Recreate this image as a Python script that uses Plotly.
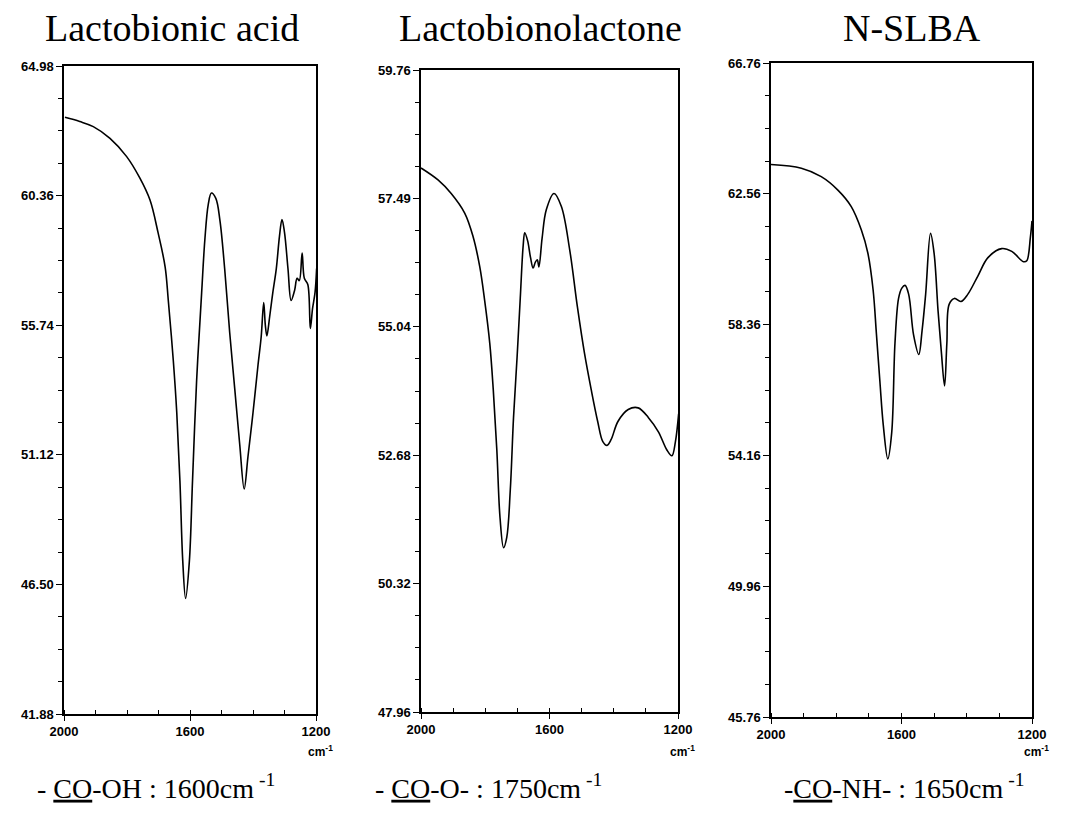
import plotly.graph_objects as go

# Lactobionic acid
lba_wn = [1997, 1950, 1907, 1854, 1801, 1759, 1727, 1701, 1679, 1669, 1653, 1642, 1632, 1623, 1614,
          1602, 1592, 1579, 1563, 1553, 1542, 1532, 1518, 1505, 1490, 1474, 1458, 1442, 1428, 1416,
          1400, 1384, 1374, 1366, 1361, 1356, 1347, 1337, 1326, 1316, 1308, 1300, 1289, 1279, 1268,
          1260, 1253, 1244, 1237, 1226, 1218, 1211, 1203, 1198]
lba_t = [63.15, 63.00, 62.82, 62.40, 61.75, 60.98, 60.20, 59.02, 57.82, 56.64, 54.48, 52.62, 50.19, 47.33, 46.00,
         47.33, 50.19, 53.76, 56.90, 58.76, 60.05, 60.45, 60.26, 59.48, 57.76, 55.48, 53.48, 51.47, 49.90, 51.05,
         52.62, 54.33, 55.33, 56.55, 55.76, 55.36, 56.05, 56.91, 57.76, 58.91, 59.51, 59.05, 57.76, 56.62, 56.98,
         57.41, 57.33, 58.31, 57.41, 57.19, 55.62, 56.33, 56.91, 57.76]

# Lactobionolactone
lac_wn = [2000, 1947, 1906, 1864, 1838, 1817, 1802, 1786, 1775, 1764, 1754, 1743, 1733, 1722, 1712, 1701,
          1691, 1682, 1677, 1668, 1659, 1651, 1644, 1638, 1633, 1623, 1610, 1586, 1563, 1537,
          1513, 1491, 1470, 1450, 1434, 1421, 1408, 1387, 1355, 1324, 1292, 1261, 1235, 1219, 1208, 1198]
lac_t = [57.96, 57.74, 57.49, 57.13, 56.70, 56.14, 55.53, 54.74, 53.88, 52.78, 51.53, 50.98, 51.17, 52.05, 53.37, 54.47,
         55.57, 56.53, 56.77, 56.62, 56.31, 56.12, 56.23, 56.27, 56.14, 56.67, 57.19, 57.49, 57.25, 56.45,
         55.40, 54.55, 53.88, 53.30, 52.93, 52.86, 52.97, 53.30, 53.52, 53.55, 53.37, 53.11, 52.78, 52.67, 52.93, 53.44]

# N-SLBA
slba_wn = [2000, 1907, 1846, 1795, 1754, 1723, 1703, 1687, 1677, 1666, 1656, 1642, 1630, 1620, 1609, 1599,
           1589, 1578, 1563, 1547, 1537, 1526, 1511, 1500, 1488, 1478, 1468, 1461, 1454, 1438, 1418,
           1397, 1366, 1335, 1293, 1262, 1226, 1216, 1205, 1200]
slba_t = [63.50, 63.38, 63.11, 62.68, 62.15, 61.40, 60.65, 59.47, 58.08, 56.50, 55.15, 54.05, 54.89, 57.77, 59.20, 59.53,
          59.62, 59.33, 58.03, 57.40, 58.16, 59.33, 61.29, 60.64, 58.81, 57.50, 56.39, 57.76, 59.01, 59.20, 59.10,
          59.33, 59.92, 60.51, 60.80, 60.71, 60.38, 60.41, 61.16, 61.69]

titles = ["Lactobionic acid", "Lactobionolactone", "N-SLBA"]
bands = ["- <u>CO</u>-OH : 1600cm<sup> -1</sup>",
         "- <u>CO</u>-O- : 1750cm<sup> -1</sup>",
         "-<u>CO</u>-NH- : 1650cm<sup> -1</sup>"]

y_ticks = [
    [64.98, 60.36, 55.74, 51.12, 46.50, 41.88],
    [59.76, 57.40, 55.04, 52.68, 50.32, 47.96],
    [66.76, 62.56, 58.36, 54.16, 49.96, 45.76],
]
y_ticktext = [
    ["64.98", "60.36", "55.74", "51.12", "46.50", "41.88"],
    ["59.76", "57.49", "55.04", "52.68", "50.32", "47.96"],
    ["66.76", "62.56", "58.36", "54.16", "49.96", "45.76"],
]
x_ticks = [2000, 1600, 1200]

W, H = 1068, 823
OFF = 8  # page body margin of the html
# pixel boxes of the three panels in the screenshot: left, right, top, bottom
boxes = [(64, 316, 66, 714), (421, 678, 70, 712), (771, 1032, 63, 717)]
title_x = [172, 540, 912]
band_x = [156, 488, 904]


def px(v):
    return (v - OFF) / W


def py(v):
    return 1 - (v - OFF) / H


fig = go.Figure()
series = [(lba_wn, lba_t), (lac_wn, lac_t), (slba_wn, slba_t)]
layout = {}
annotations = []
tick_font = dict(family="Liberation Sans", size=13, color="black", weight="bold")
for i, ((xs, ys), (l, r, t, b)) in enumerate(zip(series, boxes)):
    n = "" if i == 0 else str(i + 1)
    fig.add_trace(go.Scatter(
        x=xs, y=ys, mode="lines", xaxis="x" + n, yaxis="y" + n,
        line=dict(color="black", width=1.6, shape="spline", smoothing=1.0),
        showlegend=False, hoverinfo="skip",
    ))
    yt = y_ticks[i]
    step = (yt[0] - yt[1]) / 4
    layout["xaxis" + n] = dict(
        domain=[px(l), px(r)], anchor="y" + n, range=[2000, 1200], automargin=False,
        tickvals=x_ticks, ticks="outside", ticklen=5, tickwidth=1.2, tickcolor="black",
        minor=dict(dtick=100, tick0=1200, ticks="inside", ticklen=4, tickcolor="black"),
        showline=True, mirror=True, linecolor="black", linewidth=1.5,
        showgrid=False, zeroline=False, tickfont=tick_font,
    )
    layout["yaxis" + n] = dict(
        domain=[py(b), py(t)], anchor="x" + n, range=[yt[-1], yt[0]], automargin=False,
        tickvals=yt, ticktext=y_ticktext[i], ticks="outside", ticklen=6, tickwidth=1.2,
        tickcolor="black",
        minor=dict(dtick=step, tick0=yt[-1], ticks="outside", ticklen=4, tickcolor="black"),
        showline=True, mirror=True, linecolor="black", linewidth=1.5,
        showgrid=False, zeroline=False, tickfont=tick_font,
    )
    annotations.append(dict(
        x=px(title_x[i]), y=py(28), xref="paper", yref="paper", text=titles[i],
        xanchor="center", yanchor="middle",
        showarrow=False, font=dict(family="Liberation Serif", size=38, color="black"),
    ))
    annotations.append(dict(
        x=px(r + 4), y=py(751), xref="paper", yref="paper", text="cm<sup>-1</sup>",
        xanchor="center", yanchor="middle",
        showarrow=False, font=dict(family="Liberation Sans", size=12, color="black", weight="bold"),
    ))
    annotations.append(dict(
        x=px(band_x[i]), y=py(786), xref="paper", yref="paper", text=bands[i],
        xanchor="center", yanchor="middle",
        showarrow=False, font=dict(family="Liberation Serif", size=28, color="black"),
    ))

fig.update_layout(
    width=W, height=H, margin=dict(l=0, r=0, t=0, b=0, autoexpand=False),
    paper_bgcolor="white", plot_bgcolor="white",
    annotations=annotations, **layout,
)
fig.write_html("out.html")
